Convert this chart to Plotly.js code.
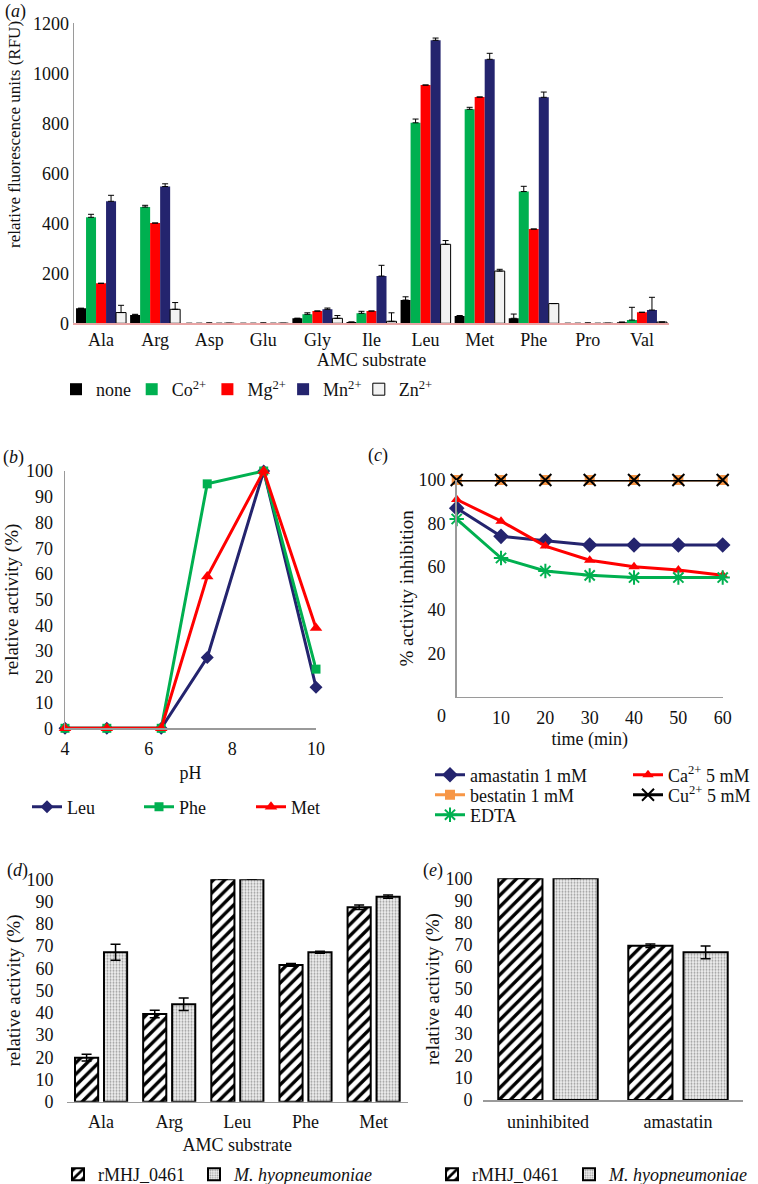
<!DOCTYPE html>
<html><head><meta charset="utf-8">
<script src="https://cdn.plot.ly/plotly-3.0.1.min.js"></script>
<style>html,body{margin:0;padding:0;background:#fff}</style>
</head><body><div id="chart" style="width:758px;height:1184px"></div>
<script>
// ---------- data: panel (a) ----------
const substratesA = ['Ala','Arg','Asp','Glu','Gly','Ile','Leu','Met','Phe','Pro','Val'];
const noneVals = [60, 33, 0, 0, 20, 5, 93, 29, 20, 0, 4];
const noneErr  = [0, 3, 0, 0, 0, 0, 13, 2, 17, 0, 1];
const coVals   = [424, 465, 0, 0, 36, 40, 802, 856, 527, 0, 13];
const coErr    = [12, 7, 0, 0, 6, 8, 15, 8, 21, 0, 51];
const mgVals   = [160, 401, 0, 0, 49, 49, 953, 905, 377, 0, 44];
const mgErr    = [0, 0, 2, 2, 0, 0, 0, 0, 0, 2, 0];
const mnVals   = [488, 547, 0, 0, 56, 189, 1132, 1056, 904, 0, 53];
const mnErr    = [24, 11, 0, 0, 5, 43, 9, 24, 21, 0, 51];
const znVals   = [43, 56, 0, 0, 20, 8, 316, 209, 79, 0, 5];
const znErr    = [29, 27, 0, 0, 11, 34, 15, 7, 0, 0, 0];
const metalNames = ['none','Co<sup>2+</sup>','Mg<sup>2+</sup>','Mn<sup>2+</sup>','Zn<sup>2+</sup>'];

// ---------- data: panel (b) ----------
const pH = [4, 5, 6.3, 7.4, 8.75, 10];
const leuPH = [0, 0, 0, 27.5, 100, 16];
const phePH = [0, 0, 0, 95, 100, 23];
const metPH = [0, 0, 0, 59, 100, 39];

// ---------- data: panel (c) ----------
const timeMin = [0, 10, 20, 30, 40, 50, 60];
const timeTicks = [10, 20, 30, 40, 50, 60];
const amastatinInh = [87, 74, 72, 70, 70, 70, 70];
const bestatinInh  = [100, 100, 100, 100, 100, 100, 100];
const edtaInh      = [82, 64, 58, 56, 55, 55, 55];
const caInh        = [91, 81, 69.5, 63, 60, 58.5, 56];
const cuInh        = [100, 100, 100, 100, 100, 100, 100];

// ---------- data: panel (d) ----------
const substratesD = ['Ala','Arg','Leu','Phe','Met'];
const rmhjD = [19.8, 39.4, 100, 61.5, 87.4];
const rmhjDErr = [1.5, 1.7, 0, 0.6, 1.0];
const mhyoD = [67.2, 43.8, 100, 67.2, 92.2];
const mhyoDErr = [3.6, 2.8, 0, 0.5, 0.7];

// ---------- data: panel (e) ----------
const conditionsE = ['uninhibited','amastatin'];
const rmhjE = [100, 69.6];
const rmhjEErr = [0, 0.8];
const mhyoE = [100, 66.6];
const mhyoEErr = [0, 2.9];

// ---------- helpers ----------
const W = 758, H = 1184;
const FONT = 'Liberation Serif';
const fx = p => p / W;
const fy = p => 1 - p / H;
const dx = (a, b) => [a / W, b / W];
const dy = (top, bottom) => [1 - bottom / H, 1 - top / H];
const NAVY = '#24246e', GREEN = '#00b050', RED = '#ff0000', ORANGE = '#f79646';

const traces = [];

// panel (a) bars
const aVals = [noneVals, coVals, mgVals, mnVals, znVals];
const aErrs = [noneErr, coErr, mgErr, mnErr, znErr];
const aColors = ['#000000', GREEN, RED, NAVY, '#f2f2f2'];
const bw = 0.185;
aVals.forEach((vals, i) => {
  traces.push({
    type: 'bar', x: substratesA, y: vals, name: metalNames[i],
    xaxis: 'x', yaxis: 'y', legend: 'legend',
    offset: -2.5 * bw + i * bw, width: bw,
    marker: {color: aColors[i], line: {color: '#000', width: i === 4 ? 1 : 0}},
    error_y: {type: 'data', array: aErrs[i], arrayminus: vals.map(() => 0), symmetric: false,
              color: '#000', thickness: 1, width: 3},
    legendwidth: i === 4 ? 40 : undefined
  });
});

// panel (b) lines
const bSeries = [
  {name: 'Leu', y: leuPH, color: NAVY, symbol: 'diamond', size: 10},
  {name: 'Phe', y: phePH, color: GREEN, symbol: 'square', size: 9},
  {name: 'Met', y: metPH, color: RED, symbol: 'triangle-up', size: 11}
];
bSeries.forEach(s => traces.push({
  type: 'scatter', mode: 'lines+markers', x: pH, y: s.y, name: s.name,
  xaxis: 'x2', yaxis: 'y2', legend: 'legend2', cliponaxis: false,
  line: {color: s.color, width: 3}, marker: {color: s.color, symbol: s.symbol, size: s.size},
  legendwidth: s.name === 'Met' ? 34 : undefined
}));

// panel (c) lines
traces.push({type: 'scatter', mode: 'lines+markers', x: timeMin, y: amastatinInh, name: 'amastatin 1 mM',
  xaxis: 'x3', yaxis: 'y3', legend: 'legend3', cliponaxis: false, legendwidth: 153,
  line: {color: NAVY, width: 3}, marker: {color: NAVY, symbol: 'diamond', size: 12}});
traces.push({type: 'scatter', mode: 'lines+markers', x: timeMin, y: caInh, name: 'Ca<sup>2+</sup> 5 mM',
  xaxis: 'x3', yaxis: 'y3', legend: 'legend3', cliponaxis: false, legendwidth: 84,
  line: {color: RED, width: 3}, marker: {color: RED, symbol: 'triangle-up', size: 10}});
traces.push({type: 'scatter', mode: 'lines+markers', x: timeMin, y: edtaInh, name: 'EDTA',
  xaxis: 'x3', yaxis: 'y3', legend: 'legend5', cliponaxis: false, legendwidth: 50,
  line: {color: GREEN, width: 3}, marker: {color: GREEN, symbol: 'asterisk-open', size: 12, line: {color: GREEN, width: 2}}});
traces.push({type: 'scatter', mode: 'lines+markers', x: timeMin, y: bestatinInh, name: 'bestatin 1 mM',
  xaxis: 'x3', yaxis: 'y3', legend: 'legend4', cliponaxis: false, legendwidth: 153,
  line: {color: ORANGE, width: 3}, marker: {color: ORANGE, symbol: 'square', size: 10}});
traces.push({type: 'scatter', mode: 'lines+markers', x: timeMin, y: cuInh, name: 'Cu<sup>2+</sup> 5 mM',
  xaxis: 'x3', yaxis: 'y3', legend: 'legend4', cliponaxis: false, legendwidth: 84,
  line: {color: '#000', width: 3}, marker: {color: '#000', symbol: 'x-thin-open', size: 12, line: {color: '#000', width: 2}}});

// panels (d) and (e) patterned bars
const stripe = {shape: '/', bgcolor: '#ffffff', fgcolor: '#000000', size: 8, solidity: 0.42};
const dots = {shape: '.', bgcolor: '#f0f0f0', fgcolor: '#9a9a9a', size: 3, solidity: 0.35};
function patBar(x, y, err, name, pat, xa, ya, lg, lw) {
  return {type: 'bar', x: x, y: y, name: name, xaxis: xa, yaxis: ya, legend: lg, legendwidth: lw,
    marker: {color: '#ffffff', pattern: pat, line: {color: '#000', width: 2}},
    error_y: {type: 'data', array: err, symmetric: true, color: '#000', thickness: 1.5, width: 5}};
}
traces.push(patBar(substratesD, rmhjD, rmhjDErr, 'rMHJ_0461', stripe, 'x4', 'y4', 'legend6', 91));
traces.push(patBar(substratesD, mhyoD, mhyoDErr, '<i>M. hyopneumoniae</i>', dots, 'x4', 'y4', 'legend6', 146));
traces.push(patBar(conditionsE, rmhjE, rmhjEErr, 'rMHJ_0461', stripe, 'x5', 'y5', 'legend7', 92));
traces.push(patBar(conditionsE, mhyoE, mhyoEErr, '<i>M. hyopneumoniae</i>', dots, 'x5', 'y5', 'legend7', 146));

// ---------- layout ----------
const tf = {family: FONT, size: 18, color: '#111'};
const tfr = {family: FONT, size: 19, color: '#111'};
function baseAxis(extra) {
  return Object.assign({showgrid: false, zeroline: false, fixedrange: true,
    tickfont: tf, linecolor: '#9a9a9a', linewidth: 1.5}, extra);
}
function legendAt(x, y, ew) {
  return {x: fx(x), xanchor: 'left', y: fy(y), yanchor: 'middle', orientation: 'h',
    entrywidth: ew, font: tf, bgcolor: 'rgba(0,0,0,0)', borderwidth: 0, tracegroupgap: 0};
}

const layout = {
  width: W, height: H, margin: {l: 0, r: 0, t: 0, b: 0, autoexpand: false},
  paper_bgcolor: '#fff', plot_bgcolor: 'rgba(0,0,0,0)',
  font: tf, barmode: 'group', bargap: 0.15, bargroupgap: 0.2, hovermode: false,
  // (a)
  xaxis: baseAxis({domain: dx(74, 669), anchor: 'y', type: 'category', range: [-0.5, 10.5],
    showline: true, linecolor: '#e8a4a4', ticks: '',
    title: {text: 'AMC substrate', font: tf, standoff: 0}}),
  yaxis: baseAxis({domain: dy(23.3, 323.3), anchor: 'x', range: [0, 1200], dtick: 200,
    showline: true, ticks: ''}),
  // (b)
  xaxis2: baseAxis({domain: dx(65, 316), anchor: 'y2', range: [4, 10], tickvals: [4, 6, 8, 10],
    showline: true, ticks: 'outside', ticklen: 4, tickcolor: 'rgba(0,0,0,0)',
    title: {text: 'pH', font: tf, standoff: 8}}),
  yaxis2: baseAxis({domain: dy(471, 728.3), anchor: 'x2', range: [0, 100], dtick: 10,
    showline: true, ticks: 'outside', ticklen: 7, tickcolor: 'rgba(0,0,0,0)',
    title: {text: 'relative activity (%)', font: tfr, standoff: 2}}),
  // (c)
  xaxis3: baseAxis({domain: dx(456.7, 722.7), anchor: 'y3', range: [0, 60], tickvals: timeTicks,
    showline: true, ticks: 'outside', ticklen: 4, tickcolor: 'rgba(0,0,0,0)',
    title: {text: 'time (min)', font: tf, standoff: 5}}),
  yaxis3: baseAxis({domain: dy(480, 696.7), anchor: 'x3', range: [0, 100], tickvals: [20, 40, 60, 80, 100],
    showline: true, ticks: 'outside', ticklen: 6, tickcolor: 'rgba(0,0,0,0)',
    title: {text: '% activity inhibition', font: tfr, standoff: 0}}),
  // (d)
  xaxis4: baseAxis({domain: dx(67, 407.7), anchor: 'y4', type: 'category',
    showline: true, ticks: 'outside', ticklen: 3, tickcolor: 'rgba(0,0,0,0)',
    title: {text: 'AMC substrate', font: tf, standoff: 7}}),
  yaxis4: baseAxis({domain: dy(879.3, 1101.7), anchor: 'x4', range: [0, 100], dtick: 10,
    showline: false, ticks: 'outside', ticklen: 9, tickcolor: 'rgba(0,0,0,0)',
    title: {text: 'relative activity (%)', font: tfr, standoff: 0}}),
  // (e)
  xaxis5: baseAxis({domain: dx(483, 743), anchor: 'y5', type: 'category',
    showline: true, ticks: 'outside', ticklen: 5, tickcolor: 'rgba(0,0,0,0)'}),
  yaxis5: baseAxis({domain: dy(878.3, 1100), anchor: 'x5', range: [0, 100], dtick: 10,
    showline: false, ticks: 'outside', ticklen: 6, tickcolor: 'rgba(0,0,0,0)',
    title: {text: 'relative activity (%)', font: tfr, standoff: 0}}),
  legend:  legendAt(56, 389.5, 30.7),
  legend2: legendAt(27, 807, 67),
  legend3: legendAt(430, 775, 153),
  legend4: legendAt(430, 795, 153),
  legend5: legendAt(430, 815, 153),
  legend6: legendAt(58, 1174.5, 91),
  legend7: legendAt(432, 1174.5, 92),
  annotations: [
    {text: '(<i>a</i>)', x: fx(15), y: fy(12)},
    {text: '(<i>b</i>)', x: fx(13), y: fy(457)},
    {text: '(<i>c</i>)', x: fx(378), y: fy(455)},
    {text: '(<i>d</i>)', x: fx(17), y: fy(870)},
    {text: '(<i>e</i>)', x: fx(433), y: fy(870)},
    {text: '0', x: fx(441.7), y: fy(716)},
    {text: 'relative fluorescence units (RFU)', x: fx(14), y: fy(135), textangle: -90, font: {family: FONT, size: 17, color: '#111'}}
  ].map(a => Object.assign({xref: 'paper', yref: 'paper', xanchor: 'center', yanchor: 'middle',
    showarrow: false, font: tf}, a))
};

Plotly.newPlot('chart', traces, layout, {staticPlot: true, displayModeBar: false});
</script>
</body></html>
